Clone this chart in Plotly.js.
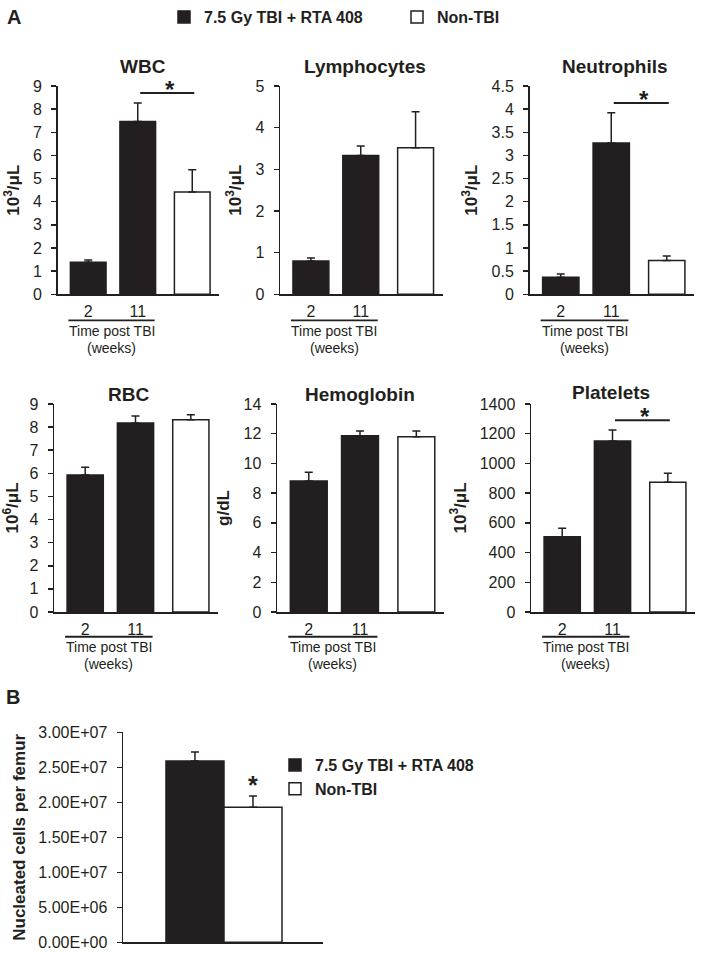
<!DOCTYPE html>
<html><head><meta charset="utf-8">
<script src="https://cdn.plot.ly/plotly-3.0.1.min.js"></script>
<style>html,body{margin:0;padding:0;background:#fff}</style>
</head><body><div id="chart" style="width:701px;height:954px"></div>
<script>
// ---------- data ----------
const weeks = ['2', '11'];
const seriesNames = ['7.5 Gy TBI + RTA 408', 'Non-TBI'];
const panelTitles = ['WBC', 'Lymphocytes', 'Neutrophils', 'RBC', 'Hemoglobin', 'Platelets'];
const unitLabels = ['10<sup>3</sup>/μL', '10<sup>3</sup>/μL', '10<sup>3</sup>/μL', '10<sup>6</sup>/μL', 'g/dL', '10<sup>3</sup>/μL'];

const wbcTBI = [1.38, 7.47], wbcTBIErr = [0.10, 0.80], wbcCtrl = [4.42], wbcCtrlErr = [0.96];
const lymTBI = [0.80, 3.33], lymTBIErr = [0.07, 0.23], lymCtrl = [3.52], lymCtrlErr = [0.86];
const neuTBI = [0.37, 3.27], neuTBIErr = [0.07, 0.65], neuCtrl = [0.73], neuCtrlErr = [0.10];
const rbcTBI = [5.93, 8.18], rbcTBIErr = [0.33, 0.30], rbcCtrl = [8.32], rbcCtrlErr = [0.22];
const hgbTBI = [8.82, 11.87], hgbTBIErr = [0.58, 0.31], hgbCtrl = [11.80], hgbCtrlErr = [0.38];
const pltTBI = [507, 1151], pltTBIErr = [56, 74], pltCtrl = [873], pltCtrlErr = [61];
const significant = [true, false, true, false, false, true];
const axisMax = [9, 5, 4.5, 9, 14, 1400];
const axisStep = [1, 1, 0.5, 1, 2, 200];

const femurMeans = [2.59e7, 1.93e7];
const femurErr = [0.13e7, 0.16e7];
const femurSignificant = [false, true];
const femurTicks = [0, 5e6, 1e7, 1.5e7, 2e7, 2.5e7, 3e7];
const femurTickLabels = ['0.00E+00', '5.00E+06', '1.00E+07', '1.50E+07', '2.00E+07', '2.50E+07', '3.00E+07'];

// ---------- layout helpers ----------
const W = 701, H = 954;
const FONT = 'Arial, "Liberation Sans", Helvetica, sans-serif';
const INK = '#231f20';
const fx = p => p / W;
const fy = p => 1 - p / H;

const tbiSets = [wbcTBI, lymTBI, neuTBI, rbcTBI, hgbTBI, pltTBI];
const tbiErrSets = [wbcTBIErr, lymTBIErr, neuTBIErr, rbcTBIErr, hgbTBIErr, pltTBIErr];
const ctrlSets = [wbcCtrl, lymCtrl, neuCtrl, rbcCtrl, hgbCtrl, pltCtrl];
const ctrlErrSets = [wbcCtrlErr, lymCtrlErr, neuCtrlErr, rbcCtrlErr, hgbCtrlErr, pltCtrlErr];

const xDomPx = [[57.5, 219], [280, 442.5], [529.5, 694], [54, 218], [277, 444], [531, 695]];
const yDomPx = [[86, 294.3], [86, 294.3], [86, 294.3], [404, 612], [404, 612], [404, 612]];
const titleYPx = [67, 67, 67, 394, 394, 392];
const titleX = [1.1, 1.09, 1.08, 0.86, 1.0, 0.98];
const ctrlGap = 0.1;
const barW = 0.72;

const traces = [];
const layout = {
  width: W, height: H,
  margin: {l: 0, r: 0, t: 0, b: 0},
  paper_bgcolor: '#fff', plot_bgcolor: 'rgba(0,0,0,0)',
  font: {family: FONT, color: INK, size: 16},
  barmode: 'overlay',
  showlegend: true,
  legend: {
    orientation: 'h', x: fx(164), y: fy(17), xanchor: 'left', yanchor: 'middle',
    font: {family: FONT, size: 16, color: INK, weight: 'bold'},
    bgcolor: 'rgba(0,0,0,0)', borderwidth: 0, traceorder: 'normal', entrywidth: 188
  },
  legend2: {
    orientation: 'v', x: fx(275), y: fy(777), xanchor: 'left', yanchor: 'middle',
    font: {family: FONT, size: 16, color: INK, weight: 'bold'},
    bgcolor: 'rgba(0,0,0,0)', borderwidth: 0, traceorder: 'normal', tracegroupgap: 0
  },
  shapes: [], annotations: []
};

const errStyle = (arr) => ({
  type: 'data', symmetric: false, array: arr, arrayminus: arr.map(() => 0),
  color: INK, thickness: 1.5, width: 4, visible: true
});

for (let i = 0; i < 6; i++) {
  const s = i === 0 ? '' : String(i + 1);
  const xa = 'x' + s, ya = 'y' + s;
  const tbiX = weeks.map((w, k) => k);
  const ctrlX = ctrlSets[i].map((v, k) => weeks.length + ctrlGap + k);

  traces.push({
    type: 'bar', x: tbiX, y: tbiSets[i], width: barW, xaxis: xa, yaxis: ya,
    name: seriesNames[0], legend: 'legend', showlegend: i === 0,
    marker: {color: INK, line: {color: INK, width: 1.5}},
    error_y: errStyle(tbiErrSets[i]), hoverinfo: 'skip'
  });
  traces.push({
    type: 'bar', x: ctrlX, y: ctrlSets[i], width: barW, xaxis: xa, yaxis: ya,
    name: seriesNames[1], legend: 'legend', showlegend: i === 0,
    marker: {color: '#ffffff', line: {color: INK, width: 1.5}},
    error_y: errStyle(ctrlErrSets[i]), hoverinfo: 'skip'
  });

  layout['xaxis' + s] = {
    domain: [fx(xDomPx[i][0]), fx(xDomPx[i][1])], anchor: ya,
    range: [-0.62, 2.64], showline: true, linecolor: INK, linewidth: 1.5,
    ticks: '', tickvals: tbiX, ticktext: weeks, ticklabelstandoff: 2,
    tickfont: {family: FONT, size: 16, color: INK},
    showgrid: false, zeroline: false, fixedrange: true
  };
  layout['yaxis' + s] = {
    domain: [fy(yDomPx[i][1]), fy(yDomPx[i][0])], anchor: xa,
    range: [0, axisMax[i]], dtick: axisStep[i], tick0: 0,
    showline: true, linecolor: INK, linewidth: 1.5,
    ticks: 'outside', ticklen: 5, tickwidth: 1.5, tickcolor: INK,
    ticklabelstandoff: 6, exponentformat: 'none', separatethousands: false,
    tickfont: {family: FONT, size: 16, color: INK},
    showgrid: false, zeroline: false, fixedrange: true,
    title: {text: '<b>' + unitLabels[i] + '</b>', font: {family: FONT, size: 17, color: INK}, standoff: 9}
  };

  // panel title
  layout.annotations.push({
    xref: xa, yref: 'paper', x: titleX[i], y: fy(titleYPx[i]),
    text: '<b>' + panelTitles[i] + '</b>', showarrow: false,
    xanchor: 'center', yanchor: 'middle', font: {family: FONT, size: 19, color: INK}
  });
  // time axis grouping
  const rowOff = i < 3 ? [-0.125, -0.176, -0.258] : [-0.119, -0.17, -0.25];
  layout.shapes.push({
    type: 'line', xref: xa, yref: ya + ' domain',
    x0: -0.4, x1: 1.34, y0: rowOff[0], y1: rowOff[0],
    line: {color: INK, width: 1.8}
  });
  layout.annotations.push({
    xref: xa, yref: ya + ' domain', x: 0.47, y: rowOff[1], text: 'Time post TBI',
    showarrow: false, xanchor: 'center', yanchor: 'middle', font: {family: FONT, size: 14, color: INK}
  });
  layout.annotations.push({
    xref: xa, yref: ya + ' domain', x: 0.47, y: rowOff[2], text: '(weeks)',
    showarrow: false, xanchor: 'center', yanchor: 'middle', font: {family: FONT, size: 14, color: INK}
  });

  // significance bracket between 11-week TBI and Non-TBI
  if (significant[i]) {
    const tops = tbiSets[i].map((v, k) => v + tbiErrSets[i][k]).concat(ctrlSets[i].map((v, k) => v + ctrlErrSets[i][k]));
    const yLine = Math.max(...tops) + 0.047 * axisMax[i];
    layout.shapes.push({
      type: 'line', xref: xa, yref: ya, x0: 1.05, x1: weeks.length + ctrlGap + 0.04, y0: yLine, y1: yLine,
      line: {color: INK, width: 2}
    });
    layout.annotations.push({
      xref: xa, yref: ya, x: 1.65, y: yLine, text: '<b>*</b>', showarrow: false,
      xanchor: 'center', yanchor: 'bottom', yshift: -12, font: {family: FONT, size: 24, color: INK}
    });
  }
}

// ---------- panel B ----------
femurMeans.forEach((m, k) => {
  traces.push({
    type: 'bar', x: [k], y: [m], width: 1, xaxis: 'x7', yaxis: 'y7',
    name: seriesNames[k], legend: 'legend2', showlegend: true,
    marker: {color: k === 0 ? INK : '#ffffff', line: {color: INK, width: 1.5}},
    error_y: errStyle([femurErr[k]]), hoverinfo: 'skip'
  });
  if (femurSignificant[k]) {
    layout.annotations.push({
      xref: 'x7', yref: 'y7', x: k, y: m + femurErr[k], text: '<b>*</b>', showarrow: false,
      xanchor: 'center', yanchor: 'bottom', yshift: -5, font: {family: FONT, size: 25, color: INK}
    });
  }
});
layout.xaxis7 = {
  domain: [fx(123), fx(323)], anchor: 'y7', range: [-1.241, 2.207],
  showline: true, linecolor: INK, linewidth: 1.5, ticks: '', showticklabels: false,
  showgrid: false, zeroline: false, fixedrange: true
};
layout.yaxis7 = {
  domain: [fy(942.3), fy(732.3)], anchor: 'x7', range: [0, 3e7],
  tickvals: femurTicks, ticktext: femurTickLabels,
  showline: true, linecolor: INK, linewidth: 1.5,
  ticks: 'outside', ticklen: 5, tickwidth: 1.5, tickcolor: INK, ticklabelstandoff: 6,
  tickfont: {family: FONT, size: 16, color: INK},
  showgrid: false, zeroline: false, fixedrange: true,
  title: {text: '<b>Nucleated cells per femur</b>', font: {family: FONT, size: 17, color: INK}, standoff: 8}
};

// panel letters
layout.annotations.push({xref: 'paper', yref: 'paper', x: fx(14), y: fy(17), text: '<b>A</b>', showarrow: false,
  xanchor: 'center', yanchor: 'middle', font: {family: FONT, size: 20, color: INK}});
layout.annotations.push({xref: 'paper', yref: 'paper', x: fx(13), y: fy(697), text: '<b>B</b>', showarrow: false,
  xanchor: 'center', yanchor: 'middle', font: {family: FONT, size: 20, color: INK}});

Plotly.newPlot('chart', traces, layout, {displayModeBar: false, staticPlot: true});
</script>
</body></html>
